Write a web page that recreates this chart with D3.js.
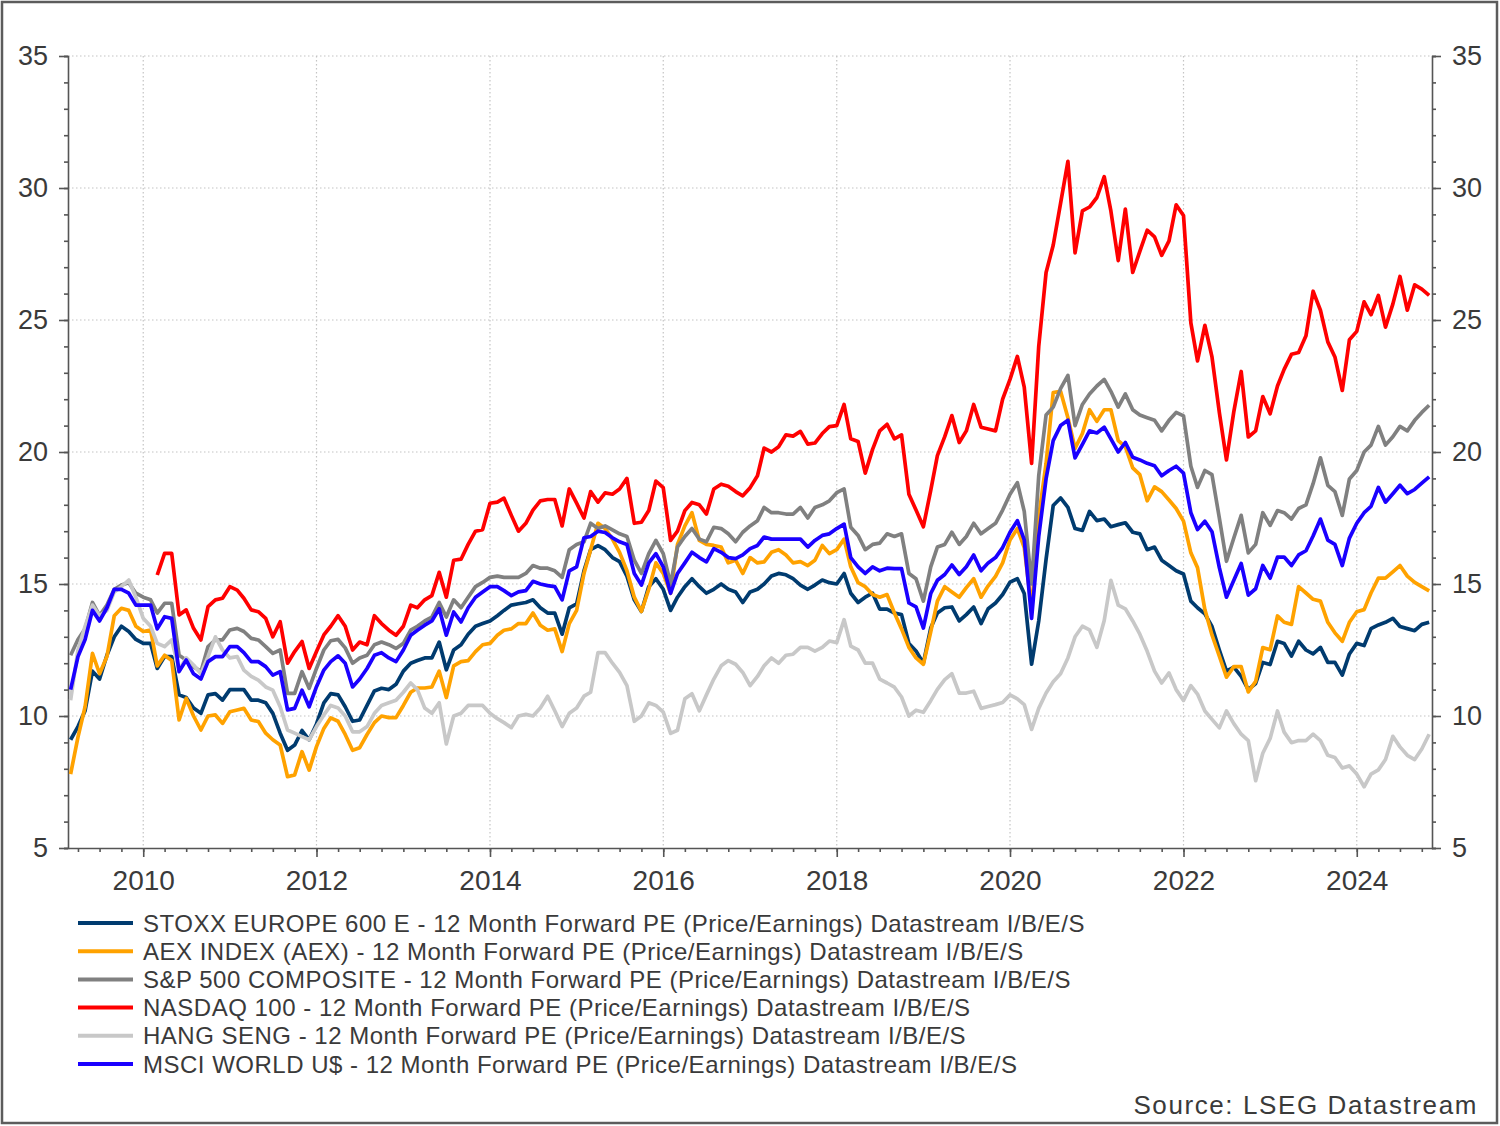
<!DOCTYPE html>
<html>
<head>
<meta charset="utf-8">
<script src="https://d3js.org/d3.v7.min.js"></script>
<style>
  body { margin: 0; background: #fff; }
  svg text { font-family: "Liberation Sans", Arial, sans-serif; fill: #3a3a3a; }
</style>
</head>
<body>
<svg id="chart" width="1500" height="1126"></svg>
<script>
// monthly points, Mar 2009 .. Nov 2024
var months = d3.timeMonth.range(new Date(2009, 2, 1), new Date(2024, 11, 1));

var stoxx = [
  9.1, 9.6, 10.2, 11.7, 11.4, 12.3, 13.0, 13.4, 13.2, 12.9,
  12.75, 12.75, 11.8, 12.25, 12.25, 10.8, 10.7, 10.3, 10.1, 10.8, 10.85, 10.6,
  11.0, 11.0, 11.0, 10.6, 10.6, 10.5, 10.1, 9.35, 8.7, 8.9, 9.45, 9.1,
  9.7, 10.5, 10.85, 10.8, 10.35, 9.8, 9.85, 10.4, 10.95, 11.05, 11.0, 11.2,
  11.7, 12.0, 12.1, 12.2, 12.2, 12.8, 11.75, 12.5, 12.7, 13.1, 13.4, 13.5,
  13.6, 13.8, 14.0, 14.2, 14.25, 14.3, 14.4, 14.1, 13.9, 13.9, 13.1, 14.1,
  14.25, 15.5, 16.3, 16.45, 16.3, 16.0, 15.85, 15.3, 14.4, 13.96, 14.9, 15.2,
  14.8, 14.0, 14.5, 14.9, 15.2, 14.9, 14.65, 14.8, 15.0, 14.8, 14.7, 14.3,
  14.7, 14.8, 15.0, 15.3, 15.4, 15.35, 15.2, 14.96, 14.8, 14.96, 15.15, 15.05,
  15.0, 15.4, 14.65, 14.3, 14.5, 14.65, 14.05, 14.05, 13.9, 13.84, 12.75, 12.46,
  12.0, 13.33, 13.9, 14.1, 14.13, 13.6, 13.84, 14.13, 13.5, 14.06, 14.28, 14.6,
  15.07, 15.2, 14.64, 11.96, 13.6, 15.94, 17.97, 18.26, 17.9, 17.1, 17.03, 17.75,
  17.4, 17.46, 17.17, 17.25, 17.32, 16.96, 16.9, 16.3, 16.4, 15.9, 15.7, 15.5,
  15.38, 14.35, 14.1, 13.87, 13.39, 12.5, 11.7, 11.85, 11.5, 11.0, 11.23, 12.03,
  11.95, 12.83, 12.75, 12.27, 12.83, 12.5, 12.35, 12.6, 12.03, 12.03, 11.55, 12.35,
  12.75, 12.67, 13.31, 13.45, 13.55, 13.7, 13.39, 13.31, 13.23, 13.47, 13.55
];

var aex = [
  7.8, 9.2, 10.35, 12.37, 11.6, 12.25, 13.8, 14.08, 14.0, 13.4,
  13.2, 13.26, 11.9, 12.3, 12.1, 9.85, 10.67, 10.0, 9.47, 10.0, 10.04, 9.72,
  10.16, 10.23, 10.29, 9.85, 9.79, 9.35, 9.1, 8.9, 7.7, 7.77, 8.65, 7.95,
  8.84, 9.53, 9.93, 9.8, 9.3, 8.7, 8.8, 9.3, 9.75, 10.0, 9.94, 9.94,
  10.4, 10.9, 11.06, 11.06, 11.1, 11.7, 10.7, 11.9, 12.06, 12.1, 12.44, 12.7,
  12.75, 13.06, 13.25, 13.3, 13.5, 13.5, 13.9, 13.44, 13.25, 13.3, 12.44, 13.5,
  14.0, 15.4, 16.3, 17.3, 17.1, 16.7, 16.2, 15.5, 14.5, 13.96, 14.8, 15.8,
  15.4, 14.65, 16.5, 17.2, 17.7, 16.65, 16.5, 16.46, 16.4, 15.8, 15.9, 15.4,
  16.0, 15.8, 15.84, 16.2, 16.3, 16.1, 15.8, 15.85, 15.7, 15.9, 16.46, 16.15,
  16.3, 16.7, 15.65, 15.05, 14.9, 14.6, 14.5, 14.6, 13.9, 13.3, 12.6, 12.2,
  11.96, 13.19, 14.35, 14.9, 14.7, 14.5, 14.86, 15.2, 14.5, 14.93, 15.29, 15.8,
  16.67, 17.1, 16.38, 14.06, 17.54, 19.57, 22.25, 22.3, 21.3, 20.14, 20.7, 21.6,
  21.16, 21.6, 21.6, 20.43, 20.2, 19.4, 19.14, 18.15, 18.68, 18.5, 18.18, 17.86,
  17.38, 16.18, 15.62, 14.03, 13.07, 12.27, 11.47, 11.87, 11.87, 10.91, 11.31, 12.59,
  12.51, 13.79, 13.55, 13.47, 14.9, 14.66, 14.42, 14.35, 13.55, 13.15, 12.83, 13.55,
  13.95, 14.03, 14.66, 15.22, 15.22, 15.46, 15.7, 15.3, 15.06, 14.9, 14.74
];

var sp500 = [
  12.3, 12.9, 13.3, 14.3, 13.8, 14.2, 14.8, 14.96, 15.05, 14.65,
  14.5, 14.4, 13.9, 14.27, 14.27, 12.3, 12.12, 11.87, 11.68, 12.63, 12.88, 12.88,
  13.26, 13.32, 13.2, 12.94, 12.88, 12.63, 12.37, 12.5, 10.86, 10.86, 11.68, 11.05,
  11.8, 12.5, 12.85, 12.9, 12.58, 12.0, 12.2, 12.3, 12.7, 12.8, 12.7, 12.56,
  12.75, 13.25, 13.4, 13.6, 13.75, 14.3, 13.75, 14.4, 14.1, 14.5, 14.9, 15.06,
  15.25, 15.3, 15.25, 15.25, 15.25, 15.4, 15.7, 15.6, 15.6, 15.5, 15.25, 16.3,
  16.5, 16.6, 17.3, 17.1, 17.2, 17.05, 16.9, 16.8, 15.9, 15.4, 16.15, 16.65,
  16.15, 15.0, 16.4, 16.8, 17.1, 16.7, 16.6, 17.15, 17.1, 16.9, 16.6, 16.96,
  17.2, 17.4, 17.9, 17.7, 17.7, 17.65, 17.65, 17.9, 17.5, 17.9, 18.0, 18.15,
  18.46, 18.6, 17.15, 16.84, 16.3, 16.5, 16.55, 16.9, 16.8, 16.9, 15.4, 15.2,
  14.35, 15.65, 16.4, 16.5, 16.96, 16.5, 16.8, 17.3, 16.9, 17.1, 17.3, 17.8,
  18.4, 18.84, 17.75, 15.0, 19.1, 21.4, 21.7, 22.4, 22.9, 21.0, 21.8, 22.2,
  22.5, 22.75, 22.3, 21.7, 22.2, 21.6, 21.4, 21.3, 21.2, 20.8, 21.2, 21.5,
  21.37, 19.46, 18.66, 19.3, 19.14, 17.5, 15.86, 16.74, 17.6, 16.18, 16.5, 17.7,
  17.22, 17.78, 17.7, 17.46, 17.86, 18.0, 18.8, 19.78, 18.74, 18.5, 17.6, 18.98,
  19.3, 20.0, 20.26, 20.97, 20.26, 20.58, 20.97, 20.8, 21.2, 21.5, 21.77
];

var nasdaq = [
  null, null, null, null, null, null, null, null, null, null,
  null, null, 15.34, 16.16, 16.16, 13.83, 14.02, 13.32, 12.88, 14.14, 14.4, 14.46,
  14.9, 14.77, 14.46, 14.02, 13.95, 13.7, 13.0, 13.57, 12.0, 12.44, 12.82, 11.8,
  12.44, 13.07, 13.4, 13.8, 13.4, 12.5, 12.8, 12.7, 13.8, 13.5, 13.25, 13.06,
  13.4, 14.2, 14.1, 14.4, 14.56, 15.44, 14.5, 15.9, 15.94, 16.5, 17.0, 17.06,
  18.06, 18.1, 18.25, 17.6, 17.0, 17.3, 17.8, 18.15, 18.2, 18.2, 17.2, 18.6,
  18.06, 17.5, 18.5, 18.1, 18.45, 18.4, 18.6, 19.0, 17.3, 17.34, 17.78, 18.9,
  18.65, 16.65, 17.0, 17.78, 18.09, 18.0, 17.65, 18.6, 18.78, 18.7, 18.5, 18.34,
  18.65, 19.1, 20.15, 20.0, 20.2, 20.65, 20.6, 20.78, 20.3, 20.34, 20.7, 20.96,
  21.0, 21.8, 20.5, 20.4, 19.2, 20.1, 20.8, 21.05, 20.5, 20.65, 18.4, 17.8,
  17.17, 18.55, 19.86, 20.58, 21.38, 20.36, 20.8, 21.8, 20.94, 20.87, 20.8, 22.0,
  22.75, 23.62, 22.46, 19.57, 24.0, 26.8, 27.83, 29.42, 31.01, 27.54, 29.13, 29.28,
  29.64, 30.43, 29.13, 27.25, 29.2, 26.8, 27.6, 28.4, 28.15, 27.45, 28.0, 29.36,
  28.96, 24.89, 23.45, 24.8, 23.6, 21.5, 19.7, 21.53, 23.05, 20.57, 20.8, 22.1,
  21.45, 22.5, 23.13, 23.7, 23.77, 24.4, 26.09, 25.37, 24.17, 23.6, 22.33, 24.25,
  24.57, 25.69, 25.2, 25.93, 24.73, 25.6, 26.65, 25.37, 26.33, 26.17, 25.93
];

var hangseng = [
  10.6, 12.5, 13.4, 14.2, 13.8, 14.0, 14.7, 14.9, 15.15, 14.5,
  13.7, 13.4, 12.75, 12.63, 12.88, 11.74, 12.2, 11.93, 11.6, 12.25, 13.0, 12.5,
  12.2, 12.25, 11.74, 11.5, 11.36, 11.1, 10.98, 10.35, 9.47, 9.35, 9.22, 9.1,
  9.6, 10.04, 10.4, 10.3, 10.0, 9.4, 9.4, 9.6, 10.1, 10.4, 10.5, 10.6,
  10.9, 11.25, 11.0, 10.3, 10.1, 10.5, 8.94, 10.0, 10.1, 10.4, 10.4, 10.4,
  10.1, 9.9, 9.75, 9.56, 10.0, 10.06, 10.0, 10.3, 10.75, 10.2, 9.6, 10.1,
  10.3, 10.75, 10.9, 12.4, 12.4, 12.0, 11.65, 11.15, 9.8, 10.0, 10.5, 10.4,
  10.15, 9.34, 9.46, 10.65, 10.84, 10.2, 10.8, 11.4, 11.9, 12.1, 11.96, 11.65,
  11.15, 11.5, 11.9, 12.2, 12.0, 12.3, 12.34, 12.6, 12.6, 12.46, 12.6, 12.84,
  12.78, 13.65, 12.65, 12.5, 12.0, 12.0, 11.4, 11.25, 11.09, 10.72, 10.0, 10.22,
  10.14, 10.58, 11.01, 11.38, 11.6, 10.87, 10.87, 10.94, 10.29, 10.36, 10.43, 10.51,
  10.8, 10.65, 10.43, 9.49, 10.29, 10.87, 11.3, 11.6, 12.2, 13.0, 13.4, 13.26,
  12.6, 13.62, 15.14, 14.2, 14.06, 13.6, 13.1, 12.45, 11.7, 11.25, 11.63, 11.0,
  10.59, 11.15, 10.83, 10.19, 9.87, 9.55, 10.19, 9.71, 9.31, 9.07, 7.55, 8.59,
  9.15, 10.19, 9.39, 8.99, 9.07, 9.07, 9.31, 9.07, 8.51, 8.43, 8.03, 8.11,
  7.8, 7.32, 7.8, 7.96, 8.35, 9.23, 8.83, 8.51, 8.35, 8.75, 9.31
];

var msci = [
  11.0, 12.25, 12.9, 14.0, 13.6, 14.1, 14.8, 14.8, 14.65, 14.2,
  14.2, 14.2, 13.3, 13.76, 13.7, 11.68, 12.12, 11.6, 11.4, 12.06, 12.25, 12.25,
  12.63, 12.63, 12.4, 12.06, 12.06, 11.87, 11.55, 11.68, 10.23, 10.29, 10.98, 10.35,
  11.11, 11.74, 12.06, 12.28, 12.0, 11.1, 11.4, 11.8, 12.3, 12.4, 12.2, 12.06,
  12.5, 13.06, 13.25, 13.44, 13.6, 14.06, 13.06, 13.94, 13.56, 14.1, 14.5, 14.7,
  14.9, 14.9, 14.75, 14.56, 14.7, 14.75, 15.1, 15.0, 14.94, 14.9, 14.4, 15.5,
  15.65, 16.75, 16.8, 17.0, 16.95, 16.75, 16.6, 16.5, 15.4, 14.96, 15.8, 16.15,
  15.65, 14.65, 15.4, 15.8, 16.2, 16.0, 15.84, 16.34, 16.2, 16.0, 15.96, 16.1,
  16.34, 16.46, 16.78, 16.7, 16.7, 16.7, 16.7, 16.7, 16.4, 16.65, 16.84, 16.9,
  17.1, 17.27, 16.0, 15.65, 15.4, 15.65, 15.5, 15.6, 15.58, 15.58, 14.28, 14.13,
  13.33, 14.64, 15.14, 15.36, 15.72, 15.36, 15.65, 16.1, 15.5, 15.8, 16.0, 16.38,
  16.96, 17.4, 16.67, 13.7, 16.8, 18.99, 20.43, 21.0, 21.2, 19.78, 20.29, 20.8,
  20.72, 20.94, 20.5, 20.0, 20.36, 19.8, 19.7, 19.57, 19.48, 19.1, 19.3, 19.46,
  19.2, 17.7, 17.06, 17.38, 16.98, 15.62, 14.5, 15.14, 15.78, 14.58, 14.82, 15.7,
  15.22, 16.02, 16.02, 15.7, 16.1, 16.26, 16.82, 17.46, 16.66, 16.5, 15.7, 16.74,
  17.3, 17.7, 17.94, 18.66, 18.1, 18.42, 18.74, 18.42, 18.58, 18.82, 19.06
];

var names = [
  "STOXX EUROPE 600 E - 12 Month Forward PE (Price/Earnings) Datastream I/B/E/S",
  "AEX INDEX (AEX) - 12 Month Forward PE (Price/Earnings) Datastream I/B/E/S",
  "S&P 500 COMPOSITE - 12 Month Forward PE (Price/Earnings) Datastream I/B/E/S",
  "NASDAQ 100 - 12 Month Forward PE (Price/Earnings) Datastream I/B/E/S",
  "HANG SENG - 12 Month Forward PE (Price/Earnings) Datastream I/B/E/S",
  "MSCI WORLD U$ - 12 Month Forward PE (Price/Earnings) Datastream I/B/E/S"
];
var colors = ["#003b6f", "#ffa200", "#808080", "#ff0000", "#c8c8c8", "#1a00ff"];
var yTicks = [5, 10, 15, 20, 25, 30, 35];

var
  svg = d3.select("#chart"),

  dim = { left: 68, right: 1432, top: 56, bottom: 848 },

  x = d3.scaleTime()
        .domain([new Date(2009, 1, 18), new Date(2024, 10, 13)])
        .range([dim.left, dim.right]),

  y = d3.scaleLinear()
        .domain([5, 35])
        .range([dim.bottom, dim.top]),

  series = [stoxx, aex, sp500, nasdaq, hangseng, msci].map(function(vals, i){
    return { name: names[i], color: colors[i], values: vals };
  });

svg.append("rect")
  .attr("x", 2)
  .attr("y", 2)
  .attr("width", 1495)
  .attr("height", 1121)
  .style("fill", "#fff")
  .style("stroke", "#5c5c5c")
  .style("stroke-width", 2.5);

// grid
var grid = svg.append("g").attr("class", "grid");

grid.selectAll("line.h")
  .data(yTicks.slice(1))
  .enter().append("line")
  .attr("x1", dim.left).attr("x2", dim.right)
  .attr("y1", function(d){ return y(d); })
  .attr("y2", function(d){ return y(d); });

grid.selectAll("line.v")
  .data(d3.timeYear.every(2).range(new Date(2010, 0, 1), new Date(2024, 1, 1)))
  .enter().append("line")
  .attr("x1", function(d){ return x(d); })
  .attr("x2", function(d){ return x(d); })
  .attr("y1", dim.top).attr("y2", dim.bottom);

grid.selectAll("line")
  .style("stroke", "#c4c4c4")
  .style("stroke-width", 1.2)
  .style("stroke-dasharray", "1.5,2.5");

// axes
function styleAxis(size){
  return function(g){
    g.selectAll("path.domain").style("stroke", "#555").style("stroke-width", 1.6);
    g.selectAll(".tick line").style("stroke", "#555").style("stroke-width", 1.6);
    g.selectAll(".tick text").style("font-size", size + "px").style("fill", "#3a3a3a");
  };
}

var minorY = d3.range(5, 36, 1);
var yearTicks = d3.timeYear.every(2).range(new Date(2010, 0, 1), new Date(2024, 1, 1));
var quarterTicks = d3.timeMonth.every(3).range(x.domain()[0], x.domain()[1]);

svg.append("g")
  .attr("transform", "translate(" + dim.left + ",0)")
  .call(d3.axisLeft(y).tickValues(minorY).tickSize(4).tickFormat(""))
  .call(styleAxis(27));

svg.append("g")
  .attr("transform", "translate(" + dim.left + ",0)")
  .call(d3.axisLeft(y).tickValues(yTicks).tickSize(9).tickPadding(11).tickFormat(d3.format("d")))
  .call(styleAxis(27))
  .select("path.domain").remove();

svg.append("g")
  .attr("transform", "translate(" + dim.right + ",0)")
  .call(d3.axisRight(y).tickValues(minorY).tickSize(4).tickFormat(""))
  .call(styleAxis(27));

svg.append("g")
  .attr("transform", "translate(" + dim.right + ",0)")
  .call(d3.axisRight(y).tickValues(yTicks).tickSize(9).tickPadding(11).tickFormat(d3.format("d")))
  .call(styleAxis(27))
  .select("path.domain").remove();

svg.append("g")
  .attr("transform", "translate(0," + dim.bottom + ")")
  .call(d3.axisBottom(x).tickValues(quarterTicks).tickSize(4).tickFormat("").tickSizeOuter(0))
  .call(styleAxis(28));

svg.append("g")
  .attr("transform", "translate(0," + dim.bottom + ")")
  .call(d3.axisBottom(x).tickValues(yearTicks).tickSize(9).tickPadding(13).tickFormat(d3.timeFormat("%Y")))
  .call(styleAxis(28))
  .select("path.domain").remove();

// lines
var line = d3.line()
  .defined(function(d){ return d.v != null; })
  .x(function(d){ return x(d.t); })
  .y(function(d){ return y(d.v); });

svg.append("g")
  .selectAll("path")
  .data(series)
  .enter().append("path")
  .attr("d", function(s){
    return line(s.values.map(function(v, i){ return { t: months[i], v: v }; }));
  })
  .style("fill", "none")
  .style("stroke", function(s){ return s.color; })
  .style("stroke-width", 3.7)
  .style("stroke-linejoin", "round");

// legend
var legend = svg.append("g")
  .selectAll("g")
  .data(series)
  .enter().append("g")
  .attr("transform", function(d, i){ return "translate(78," + (923 + i * 28.2) + ")"; });

legend.append("line")
  .attr("x1", 0).attr("x2", 55)
  .attr("y1", 0).attr("y2", 0)
  .style("stroke", function(d){ return d.color; })
  .style("stroke-width", 4);

legend.append("text")
  .attr("x", 65)
  .attr("dy", "0.36em")
  .style("font-size", "24px")
  .style("letter-spacing", "0.5px")
  .text(function(d){ return d.name; });

svg.append("text")
  .attr("x", 1478)
  .attr("y", 1114)
  .attr("text-anchor", "end")
  .style("font-size", "26px")
  .style("letter-spacing", "1.6px")
  .text("Source: LSEG Datastream");
</script>
</body>
</html>
